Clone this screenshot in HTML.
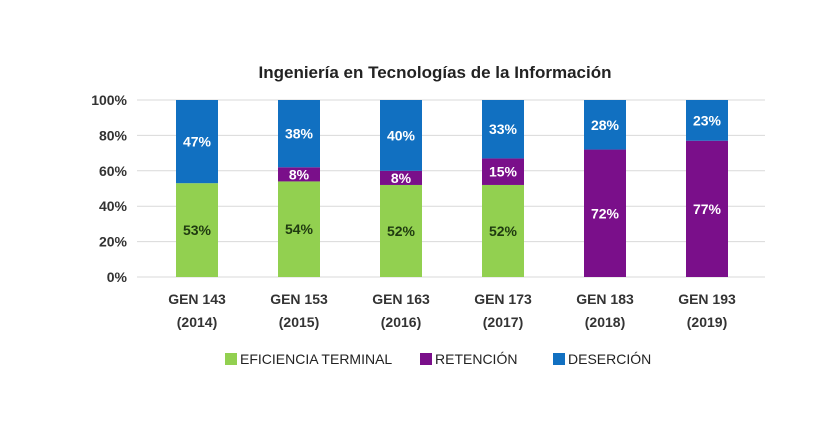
<!DOCTYPE html>
<html><head><meta charset="utf-8"><style>
body{margin:0;background:#fff;font-family:"Liberation Sans",sans-serif}
</style></head><body>
<svg id="c" width="832" height="431" xmlns="http://www.w3.org/2000/svg">
<text x="435" y="78" text-anchor="middle" font-size="17" font-weight="bold" fill="#222">Ingeniería en Tecnologías de la Información</text>
<g id="grid"></g><g id="bars"></g><g id="labels"></g>
<g font-size="14" fill="#222">
<rect x="225" y="353" width="12" height="12" fill="#92d050"/>
<text x="240" y="364">EFICIENCIA TERMINAL</text>
<rect x="420" y="353" width="12" height="12" fill="#7a0f8a"/>
<text x="435" y="364">RETENCIÓN</text>
<rect x="553" y="353" width="12" height="12" fill="#1170c1"/>
<text x="568" y="364">DESERCIÓN</text>
</g>
</svg>
<script>
const categories=["GEN 143","GEN 153","GEN 163","GEN 173","GEN 183","GEN 193"];
const years=["(2014)","(2015)","(2016)","(2017)","(2018)","(2019)"];
const eficiencia=[53,54,52,52,0,0];
const retencion=[0,8,8,15,72,77];
const desercion=[47,38,40,33,28,23];
const yTicks=[0,20,40,60,80,100];
const NS="http://www.w3.org/2000/svg";
const y0=277,y1=100,xL=137,xR=765;
const yS=v=>y0-(y0-y1)*v/100;
const xS=i=>197+i*102;
function mk(t,a,p){const e=document.createElementNS(NS,t);for(const k in a)e.setAttribute(k,a[k]);p.appendChild(e);return e;}
const g=document.getElementById('grid'),b=document.getElementById('bars'),l=document.getElementById('labels');
yTicks.forEach(v=>{
 const ln=mk('line',{x1:xL,x2:xR,y1:yS(v),y2:yS(v),stroke:'#d9d9d9','stroke-width':1},g);
 
 
 const t=mk('text',{x:127,y:yS(v)+5,'text-anchor':'end','font-size':14,'font-weight':'bold',fill:'#333'},g);
 t.textContent=v+'%';
 
 
});
const series=[[eficiencia,'#92d050','#1f3a10','eficiencia'],[retencion,'#7a0f8a','#fff','retencion'],[desercion,'#1170c1','#fff','desercion']];
categories.forEach((c,i)=>{
 let acc=0;
 series.forEach(([arr,col,tc,nm])=>{
  const v=arr[i]; if(!v)return;
  const top=Math.min(100,acc+v);
  const r=mk('rect',{x:xS(i)-21,width:42,y:yS(top),height:yS(acc)-yS(top),fill:col},b);
  
  
  const t=mk('text',{x:xS(i),y:(yS(top)+yS(acc))/2+5,'text-anchor':'middle','font-size':14,'font-weight':'bold',fill:tc},l);
  t.textContent=v+'%';
  
  
  acc=top;
 });
 const t1=mk('text',{x:xS(i),y:304,'text-anchor':'middle','font-size':14,'font-weight':'bold',fill:'#333'},l);
 t1.textContent=c;
 
 
 const t2=mk('text',{x:xS(i),y:327,'text-anchor':'middle','font-size':14,'font-weight':'bold',fill:'#333'},l);
 t2.textContent=years[i];
 
 
});
</script>
</body></html>
